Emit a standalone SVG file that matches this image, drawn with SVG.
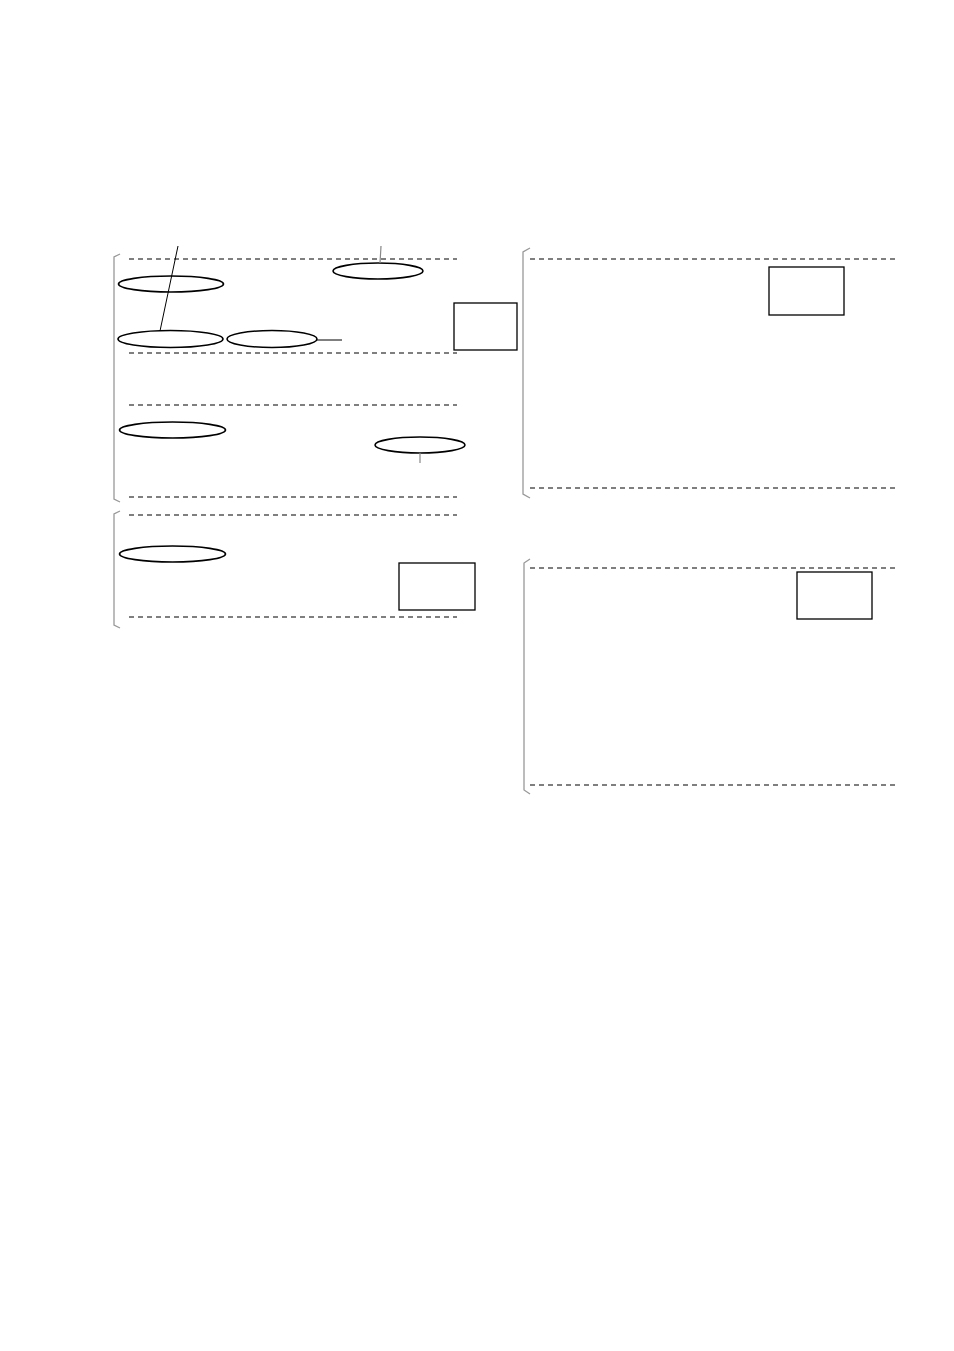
<svg xmlns="http://www.w3.org/2000/svg" width="954" height="1351" viewBox="0 0 954 1351">
<style>
.dash{stroke:#000;stroke-width:1.1;stroke-dasharray:5,4;fill:none}
.ell{fill:none;stroke:#000;stroke-width:1.6}
.box{fill:none;stroke:#000;stroke-width:1.3}
.brk{fill:none;stroke:#999;stroke-width:1.3}
.ln{stroke:#000;stroke-width:1;fill:none}
.gl{stroke:#888;stroke-width:1.2;fill:none}
</style>
<rect width="954" height="1351" fill="#fff"/>
<g id="group-left-1">
<path class="brk" d="M120,254 L114,257 L114,499 L120,502"/>
<line class="dash" x1="129" y1="259" x2="457" y2="259"/>
<line class="dash" x1="129" y1="353" x2="457" y2="353"/>
<line class="dash" x1="129" y1="405" x2="457" y2="405"/>
<line class="dash" x1="129" y1="497" x2="457" y2="497"/>
</g>
<g id="node-e1"><ellipse class="ell" cx="171" cy="284" rx="52.5" ry="8"/></g>
<g id="node-e2"><ellipse class="ell" cx="170.5" cy="339" rx="52.5" ry="8.5"/></g>
<g id="node-e3"><ellipse class="ell" cx="272" cy="339" rx="45" ry="8.5"/></g>
<g id="node-e4"><ellipse class="ell" cx="378" cy="271" rx="45" ry="8"/></g>
<g id="node-r1"><rect class="box" x="454" y="303" width="63" height="47"/></g>
<g id="node-e5"><ellipse class="ell" cx="172.5" cy="430" rx="53" ry="8"/></g>
<g id="node-e6"><ellipse class="ell" cx="420" cy="445" rx="45" ry="8"/></g>
<g id="group-left-2">
<path class="brk" d="M120,511 L114,514 L114,625 L120,628"/>
<line class="dash" x1="129" y1="515" x2="457" y2="515"/>
<line class="dash" x1="129" y1="617" x2="457" y2="617"/>
</g>
<g id="node-e7"><ellipse class="ell" cx="172.5" cy="554" rx="53" ry="8"/></g>
<g id="node-r2"><rect class="box" x="399" y="563" width="76" height="47"/></g>
<g id="group-right-1">
<path class="brk" d="M530,248 L523,252 L523,494 L530,498"/>
<line class="dash" x1="530" y1="259" x2="898" y2="259"/>
<line class="dash" x1="530" y1="488" x2="898" y2="488"/>
</g>
<g id="node-r3"><rect class="box" x="769" y="267" width="75" height="48"/></g>
<g id="group-right-2">
<path class="brk" d="M530,559 L524,563 L524,790 L530,794"/>
<line class="dash" x1="530" y1="568" x2="898" y2="568"/>
<line class="dash" x1="530" y1="785" x2="898" y2="785"/>
</g>
<g id="node-r4"><rect class="box" x="797" y="572" width="75" height="47"/></g>
<g id="connectors">
<line class="ln" x1="178" y1="246" x2="160" y2="331"/>
<line class="gl" x1="381" y1="246" x2="380" y2="263"/>
<line class="ln" x1="317" y1="340" x2="342" y2="340"/>
<line class="gl" x1="420" y1="453" x2="420" y2="463"/>
</g>
</svg>
